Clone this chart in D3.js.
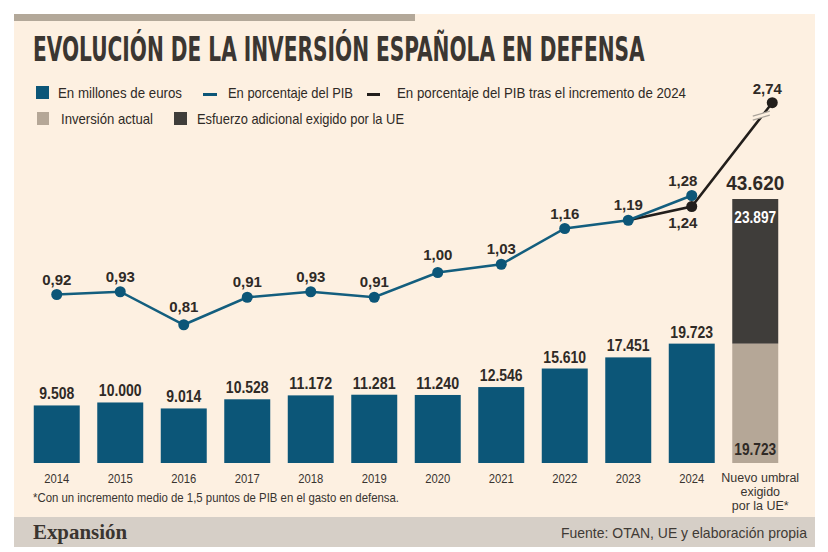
<!DOCTYPE html>
<html>
<head>
<meta charset="utf-8">
<script src="https://cdn.jsdelivr.net/npm/d3@7"></script>
<style>
  body { margin: 0; background: #fff; }
  svg { display: block; }
  text { font-family: "Liberation Sans", Arial, sans-serif; }
  .titulo { font-family: "DejaVu Sans Condensed", "Liberation Sans Narrow", sans-serif; }
</style>
</head>
<body>
<svg width="828" height="552"></svg>
<script>
// datos
var years = ["2014", "2015", "2016", "2017", "2018", "2019", "2020", "2021", "2022", "2023", "2024"];
var gasto = [9508, 10000, 9014, 10528, 11172, 11281, 11240, 12546, 15610, 17451, 19723];
var pib = [0.92, 0.93, 0.81, 0.91, 0.93, 0.91, 1.00, 1.03, 1.16, 1.19, 1.28];
var pibTrasCat = ["2023", "2024", "UE"];
var pibTras = [1.19, 1.24, 2.74];
var umbralActual = 19723, umbralAdicional = 23897, umbralTotal = 43620;

var azul = "#0c5678", negro = "#221e1b", tostado = "#b5a797", oscuro = "#3f3d3a",
    fondo = "#fdf0e1", tinta = "#2f2a26";

var fmtMill = function(v) { return d3.format(",")(v).replace(/,/g, "."); };
var fmtPct = function(v) { return d3.format(".2f")(v).replace(".", ","); };
// ancho de las cifras, para imitar la letra estrecha del original
var ancho = function(s, dig, sep) {
  return s.split("").reduce(function(w, ch) { return w + (/\d/.test(ch) ? dig : sep); }, 0);
};

var svg = d3.select("svg");

// fondo y bandas
svg.append("rect").attr("x", 14).attr("y", 14).attr("width", 801).attr("height", 503).attr("fill", fondo);
svg.append("rect").attr("x", 14).attr("y", 14).attr("width", 401).attr("height", 7).attr("fill", "#b3a899");
svg.append("rect").attr("x", 14).attr("y", 517).attr("width", 801).attr("height", 30).attr("fill", "#d6cfc7");

// titulo: letra normal estirada hasta el ancho del original
var gTit = svg.append("g");
var titulo = gTit.append("text").attr("class", "titulo")
    .attr("font-size", 24).attr("font-weight", "bold").attr("fill", "#3b3631")
    .text("EVOLUCIÓN DE LA INVERSIÓN ESPAÑOLA EN DEFENSA");
var anchoTit = titulo.node().getComputedTextLength();
gTit.attr("transform", "translate(33,61) scale(" + (612 / anchoTit) + "," + (34 / 24) + ")");

// leyenda
var leg = svg.append("g").attr("font-size", 14.5).attr("fill", tinta);
leg.append("rect").attr("x", 36).attr("y", 86).attr("width", 13).attr("height", 13).attr("fill", azul);
leg.append("text").attr("x", 58).attr("y", 98).attr("textLength", 124).attr("lengthAdjust", "spacingAndGlyphs").text("En  millones de euros");
leg.append("rect").attr("x", 203).attr("y", 93).attr("width", 14).attr("height", 3).attr("fill", azul);
leg.append("text").attr("x", 228).attr("y", 98).attr("textLength", 125).attr("lengthAdjust", "spacingAndGlyphs").text("En porcentaje del PIB");
leg.append("rect").attr("x", 367).attr("y", 93).attr("width", 13).attr("height", 3).attr("fill", negro);
leg.append("text").attr("x", 397).attr("y", 98).attr("textLength", 289).attr("lengthAdjust", "spacingAndGlyphs").text("En porcentaje del PIB tras el incremento de 2024");
leg.append("rect").attr("x", 37).attr("y", 112).attr("width", 12).attr("height", 13).attr("fill", tostado);
leg.append("text").attr("x", 61).attr("y", 124).attr("textLength", 92).attr("lengthAdjust", "spacingAndGlyphs").text("Inversión actual");
leg.append("rect").attr("x", 174).attr("y", 112).attr("width", 13).attr("height", 13).attr("fill", oscuro);
leg.append("text").attr("x", 197).attr("y", 124).attr("textLength", 207).attr("lengthAdjust", "spacingAndGlyphs").text("Esfuerzo adicional exigido por la UE");

// escalas
var x = d3.scaleBand()
    .domain(years.concat(["UE"]))
    .range([25, 787])
    .paddingInner(0.276)
    .paddingOuter(0.138);

var yBar = d3.scaleLinear().domain([0, umbralTotal]).range([463, 199]);
var yPct = d3.scaleLinear().domain([0.8, 1.28, 2.74]).range([327.5, 195.5, 102.7]);

var cx = function(c) { return x(c) + x.bandwidth() / 2; };
var cxTras = function(c) { return c === "UE" ? x(c) + x.bandwidth() * 0.87 : cx(c); };

// barras
var barras = svg.append("g");
barras.selectAll("rect").data(gasto).enter().append("rect")
    .attr("x", function(d, i) { return x(years[i]); })
    .attr("y", function(d) { return yBar(d); })
    .attr("width", x.bandwidth())
    .attr("height", function(d) { return yBar(0) - yBar(d); })
    .attr("fill", azul);

barras.selectAll("text").data(gasto).enter().append("text")
    .attr("x", function(d, i) { return cx(years[i]); })
    .attr("y", function(d) { return yBar(d) - 6; })
    .attr("text-anchor", "middle").attr("font-size", 16.5).attr("font-weight", "bold").attr("fill", tinta)
    .attr("textLength", function(d) { return ancho(fmtMill(d), 7.8, 3.8); })
    .attr("lengthAdjust", "spacingAndGlyphs")
    .text(fmtMill);

// barra apilada
var pila = [{v0: 0, v1: umbralActual, c: tostado}, {v0: umbralActual, v1: umbralTotal, c: oscuro}];
svg.append("g").selectAll("rect").data(pila).enter().append("rect")
    .attr("x", x("UE"))
    .attr("y", function(d) { return yBar(d.v1); })
    .attr("width", x.bandwidth())
    .attr("height", function(d) { return yBar(d.v0) - yBar(d.v1); })
    .attr("fill", function(d) { return d.c; });

var etiquetaPila = function(v, yy, size, color, dig, sep) {
  var s = fmtMill(v);
  svg.append("text").attr("x", cx("UE")).attr("y", yy)
      .attr("text-anchor", "middle").attr("font-size", size).attr("font-weight", "bold").attr("fill", color)
      .attr("textLength", ancho(s, dig, sep)).attr("lengthAdjust", "spacingAndGlyphs")
      .text(s);
};
etiquetaPila(umbralActual, yBar(0) - 8, 16, tinta, 7.6, 3.8);
etiquetaPila(umbralAdicional, yBar(umbralTotal) + 24, 16, "#fff", 7.6, 3.8);
etiquetaPila(umbralTotal, yBar(umbralTotal) - 9, 20, tinta, 10.6, 5);

// eje x
var ejeX = svg.append("g").attr("font-size", 13).attr("fill", "#383430");
ejeX.selectAll("text").data(years).enter().append("text")
    .attr("x", function(d) { return cx(d); })
    .attr("y", 483)
    .attr("text-anchor", "middle")
    .attr("textLength", 25).attr("lengthAdjust", "spacingAndGlyphs")
    .text(function(d) { return d; });
var ue = ejeX.append("text").attr("x", cx("UE") + 5).attr("y", 482)
    .attr("text-anchor", "middle").attr("font-size", 12.5);
["Nuevo umbral", "exigido", "por la UE*"].forEach(function(t, i) {
  ue.append("tspan").attr("x", cx("UE") + 5).attr("dy", i ? 14 : 0).text(t);
});

// lineas
var linea = d3.line().x(function(d) { return d[0]; }).y(function(d) { return d[1]; });
var ptsTras = pibTras.map(function(v, i) { return [cxTras(pibTrasCat[i]), yPct(v)]; });
var ptsPib = pib.map(function(v, i) { return [cx(years[i]), yPct(v)]; });

svg.append("path").attr("d", linea(ptsTras)).attr("fill", "none").attr("stroke", negro).attr("stroke-width", 2.5);

// marca de corte
var a = ptsTras[1], b = ptsTras[2], t = 0.87;
var m = [a[0] + (b[0] - a[0]) * t, a[1] + (b[1] - a[1]) * t];
var corte = svg.append("g");
corte.append("polygon")
    .attr("points", [[m[0] - 9, m[1] + 4], [m[0] + 8, m[1] - 1], [m[0] + 8, m[1] - 5], [m[0] - 9, m[1]]].join(" "))
    .attr("fill", fondo);
[0, -4].forEach(function(o) {
  corte.append("line")
      .attr("x1", m[0] - 9).attr("y1", m[1] + 4 + o)
      .attr("x2", m[0] + 8).attr("y2", m[1] - 1 + o)
      .attr("stroke", "#aaa39a").attr("stroke-width", 1.2);
});

svg.append("path").attr("d", linea(ptsPib)).attr("fill", "none").attr("stroke", "#135e7e").attr("stroke-width", 2.5);

svg.append("g").selectAll("circle").data(ptsTras.slice(1)).enter().append("circle")
    .attr("cx", function(d) { return d[0]; }).attr("cy", function(d) { return d[1]; })
    .attr("r", 5.5).attr("fill", negro);
svg.append("g").selectAll("circle").data(ptsPib).enter().append("circle")
    .attr("cx", function(d) { return d[0]; }).attr("cy", function(d) { return d[1]; })
    .attr("r", 5.5).attr("fill", azul);

// etiquetas de porcentaje
var pct = svg.append("g").attr("font-size", 15).attr("font-weight", "bold").attr("fill", tinta).attr("text-anchor", "middle");
pct.selectAll("text").data(pib).enter().append("text")
    .attr("x", function(d, i) { return cx(years[i]) - (i === 10 ? 9 : 0); })
    .attr("y", function(d, i) { return yPct(d) - (i === 2 || i === 6 ? 13 : 10); })
    .text(fmtPct);
pct.append("text").attr("x", ptsTras[1][0] - 9).attr("y", ptsTras[1][1] + 21)
    .text(fmtPct(pibTras[1]));
pct.append("text").attr("x", ptsTras[2][0] - 5).attr("y", ptsTras[2][1] - 9)
    .text(fmtPct(pibTras[2]));

// notas
svg.append("text").attr("x", 33).attr("y", 502).attr("font-size", 13).attr("fill", "#383430")
    .attr("textLength", 366).attr("lengthAdjust", "spacingAndGlyphs")
    .text("*Con un incremento medio de 1,5 puntos de PIB en el gasto en defensa.");
svg.append("text").attr("x", 33).attr("y", 539)
    .style("font-family", "'Liberation Serif', 'DejaVu Serif', serif")
    .attr("font-size", 21).attr("font-weight", "bold").attr("fill", "#3a3530")
    .attr("textLength", 94).attr("lengthAdjust", "spacingAndGlyphs")
    .text("Expansión");
svg.append("text").attr("x", 807).attr("y", 538).attr("text-anchor", "end")
    .attr("font-size", 15).attr("fill", "#3f3a35")
    .attr("textLength", 246).attr("lengthAdjust", "spacingAndGlyphs")
    .text("Fuente: OTAN, UE y elaboración propia");
</script>
</body>
</html>
